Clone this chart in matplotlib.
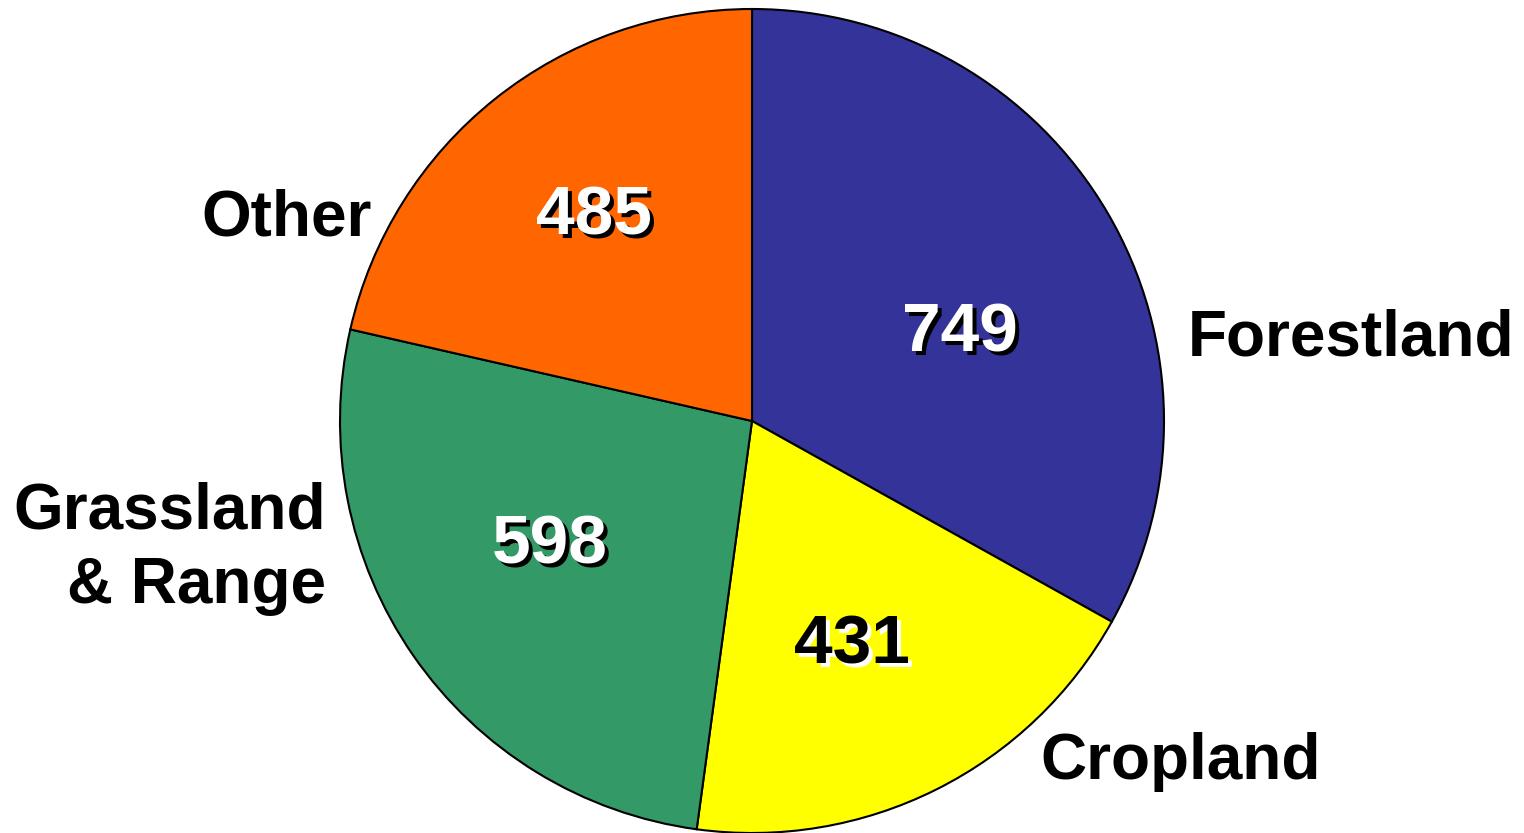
import matplotlib.pyplot as plt

# land use values (shown on the slices)
labels = ["Forestland", "Cropland", "Grassland\n& Range", "Other"]
values = [749, 431, 598, 485]
colors = ["#333399", "#FFFF00", "#339966", "#FF6600"]
num_color = ["white", "black", "white", "white"]
shadow_color = ["black", "white", "black", "black"]

# pixel-ish positions for the texts (y measured from the top)
num_pos = [(960, 333), (852, 646), (550, 546), (594, 216)]
lab_pos = [(1188, 338, "left"), (1040, 762, "left"), (326, 549, "right"), (372, 218, "right")]

plt.rcParams["font.family"] = ["Liberation Sans", "DejaVu Sans"]
fig = plt.figure(figsize=(15.24, 8.33), dpi=100)
ax = fig.add_axes([0, 0, 1, 1])

H = 833
ax.pie(values, colors=colors, startangle=90, counterclock=False,
       center=(752, H - 421), radius=412,
       wedgeprops=dict(edgecolor="black", linewidth=1.5))
# pie resets the limits, so set them afterwards
ax.set_xlim(0, 1524)
ax.set_ylim(0, 833)
ax.set_aspect("equal")
ax.axis("off")

for i in range(len(values)):
    x, y = num_pos[i]
    ax.text(x + 4, H - y - 4, str(values[i]), fontsize=50, fontweight="bold",
            color=shadow_color[i], ha="center", va="center")
    ax.text(x, H - y, str(values[i]), fontsize=50, fontweight="bold",
            color=num_color[i], ha="center", va="center")

for i in range(len(labels)):
    x, y, ha = lab_pos[i]
    ax.text(x, H - y, labels[i], fontsize=46, fontweight="bold", color="black",
            ha=ha, va="center", multialignment="right", linespacing=1.3)

fig.savefig("out.png", dpi=100)
